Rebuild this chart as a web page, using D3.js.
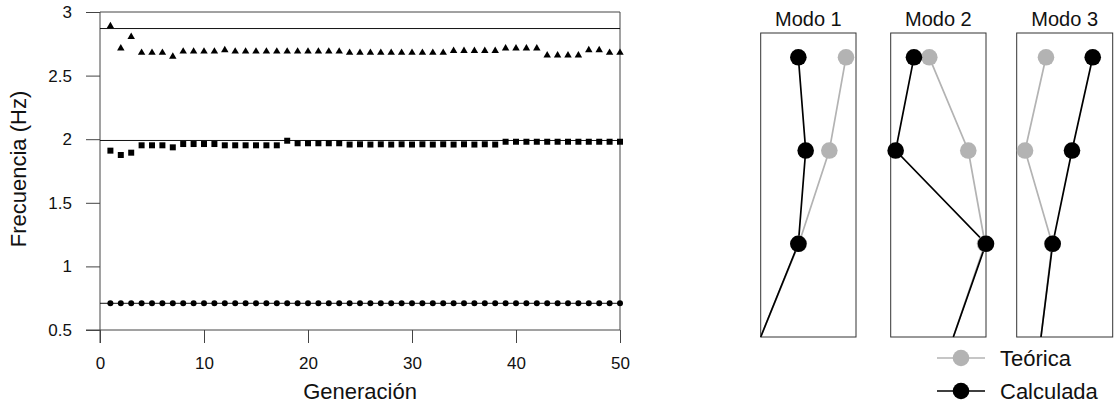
<!DOCTYPE html>
<html><head><meta charset="utf-8">
<script src="https://cdn.jsdelivr.net/npm/d3@7"></script>
<style>body{margin:0;background:#fff}svg{display:block;font-family:"Liberation Sans",Arial,sans-serif}</style>
</head><body><svg id="c" width="1115" height="408"></svg>
<script>
// ---- Left chart data ----
const generations = [1,2,3,4,5,6,7,8,9,10,11,12,13,14,15,16,17,18,19,20,21,22,23,24,25,26,27,28,29,30,31,32,33,34,35,36,37,38,39,40,41,42,43,44,45,46,47,48,49,50];
const freqMode1 = [0.71,0.71,0.71,0.71,0.71,0.71,0.71,0.71,0.71,0.71,0.71,0.71,0.71,0.71,0.71,0.71,0.71,0.71,0.71,0.71,0.71,0.71,0.71,0.71,0.71,0.71,0.71,0.71,0.71,0.71,0.71,0.71,0.71,0.71,0.71,0.71,0.71,0.71,0.71,0.71,0.71,0.71,0.71,0.71,0.71,0.71,0.71,0.71,0.71,0.71];
const freqMode2 = [1.91,1.876,1.894,1.952,1.952,1.952,1.936,1.962,1.962,1.962,1.962,1.952,1.952,1.952,1.952,1.952,1.952,1.988,1.968,1.968,1.968,1.968,1.968,1.958,1.96,1.958,1.96,1.958,1.96,1.958,1.96,1.958,1.96,1.958,1.96,1.958,1.96,1.958,1.98,1.98,1.98,1.98,1.98,1.98,1.98,1.98,1.98,1.98,1.98,1.98];
const freqMode3 = [2.89,2.715,2.805,2.68,2.68,2.68,2.65,2.69,2.69,2.69,2.69,2.70,2.69,2.69,2.69,2.69,2.69,2.69,2.69,2.69,2.69,2.69,2.69,2.68,2.68,2.68,2.68,2.68,2.68,2.68,2.68,2.68,2.68,2.695,2.695,2.695,2.695,2.695,2.715,2.715,2.715,2.715,2.66,2.66,2.66,2.66,2.70,2.70,2.68,2.68];
const theoreticalFreqs = [0.71, 1.99, 2.87];
const xTicks = [0,10,20,30,40,50];
const yTicks = [0.5,1,1.5,2,2.5,3];
const xTitle = "Generación";
const yTitle = "Frecuencia (Hz)";

// ---- Right panels data (mode shapes, fraction of panel width; levels 0..3) ----
const modeTitles = ["Modo 1","Modo 2","Modo 3"];
const levels = [0,1,2,3];
const shapeTeo1 = [0,0.40,0.72,0.895];
const shapeCal1 = [0,0.395,0.472,0.395];
const shapeTeo2 = [0.657,0.99,0.814,0.405];
const shapeCal2 = [0.657,1.0,0.052,0.244];
const shapeTeo3 = [0.253,0.37,0.087,0.305];
const shapeCal3 = [0.253,0.375,0.576,0.792];
const legendLabels = ["Teórica","Calculada"];

const svg = d3.select("#c");
const grey = "#b3b3b3";
const axisCol = "#444";

// ---- Left chart ----
const x = d3.scaleLinear().domain([0,50]).range([100,620]);
const y = d3.scaleLinear().domain([0.5,3]).range([330,12]);
const g = svg.append("g");

g.append("line").attr("x1",x(0)).attr("x2",x(50)).attr("y1",y(3)).attr("y2",y(3)).attr("stroke",axisCol).attr("stroke-width",1);
g.append("line").attr("x1",x(50)).attr("x2",x(50)).attr("y1",y(3)).attr("y2",y(0.5)).attr("stroke",axisCol).attr("stroke-width",1);

const xAxis = d3.axisBottom(x).tickValues(xTicks).tickSize(13).tickPadding(14).tickFormat(d3.format("d"));
const gx = g.append("g").attr("transform",`translate(0,${y(0.5)})`).call(xAxis);
const yAxis = d3.axisLeft(y).tickValues(yTicks).tickSize(14).tickPadding(14).tickFormat(d=>String(d));
const gy = g.append("g").attr("transform",`translate(${x(0)},0)`).call(yAxis);
[gx,gy].forEach(a=>{
  a.select(".domain").remove();
  a.selectAll(".tick line").attr("stroke",axisCol);
  a.selectAll("text").attr("font-size",17).attr("fill","#111").attr("font-family","Liberation Sans, Arial, sans-serif");
});
g.append("line").attr("x1",x(0)-14).attr("x2",x(50)).attr("y1",y(0.5)).attr("y2",y(0.5)).attr("stroke",axisCol);
g.append("line").attr("x1",x(0)).attr("x2",x(0)).attr("y1",y(3)).attr("y2",y(0.5)+13).attr("stroke",axisCol);

g.selectAll("line.ref").data(theoreticalFreqs).join("line").attr("class","ref")
  .attr("x1",x(0)).attr("x2",x(50)).attr("y1",d=>y(d)).attr("y2",d=>y(d))
  .attr("stroke","#111").attr("stroke-width",1);

g.selectAll("circle.m1").data(freqMode1).join("circle").attr("class","m1")
  .attr("cx",(d,i)=>x(generations[i])).attr("cy",d=>y(d)).attr("r",3).attr("fill","#000");
const sq = d3.symbol().type(d3.symbolSquare).size(36);
g.selectAll("path.m2").data(freqMode2).join("path").attr("class","m2")
  .attr("d",sq).attr("transform",(d,i)=>`translate(${x(generations[i])},${y(d)})`).attr("fill","#000");
const tri = d3.symbol().type(d3.symbolTriangle).size(24);
g.selectAll("path.m3").data(freqMode3).join("path").attr("class","m3")
  .attr("d",tri).attr("transform",(d,i)=>`translate(${x(generations[i])},${y(d)})`).attr("fill","#000");

g.append("text").attr("x",x(25)).attr("y",399).attr("text-anchor","middle").attr("font-size",22).attr("fill","#111").text(xTitle);
g.append("text").attr("transform",`translate(26,169) rotate(-90)`).attr("text-anchor","middle").attr("font-size",22).attr("fill","#111").text(yTitle);

// ---- Right panels ----
const panels = [
  {left:760.7,w:95.3,teo:shapeTeo1,cal:shapeCal1},
  {left:890.7,w:95.3,teo:shapeTeo2,cal:shapeCal2},
  {left:1016.7,w:96,teo:shapeTeo3,cal:shapeCal3}
];
const py = d3.scaleLinear().domain([0,3]).range([337,57.3]);
const boxTop = 33;
panels.forEach((p,k)=>{
  const px = d3.scaleLinear().domain([0,1]).range([p.left,p.left+p.w]);
  const pg = svg.append("g");
  pg.append("rect").attr("x",p.left).attr("y",boxTop).attr("width",p.w).attr("height",py(0)-boxTop)
    .attr("fill","none").attr("stroke","#333").attr("stroke-width",1);
  pg.append("text").attr("x",p.left+p.w/2).attr("y",26).attr("text-anchor","middle").attr("font-size",20).attr("fill","#111").text(modeTitles[k]);
  const line = d3.line().x((d,i)=>px(d)).y((d,i)=>py(levels[i]));
  [[p.teo,grey],[p.cal,"#000"]].forEach(([s,col])=>{
    pg.append("path").attr("d",line(s)).attr("fill","none").attr("stroke",col).attr("stroke-width",1.7);
  });
  [[p.teo,grey],[p.cal,"#000"]].forEach(([s,col])=>{
    pg.selectAll(null).data(s.slice(1)).join("circle")
      .attr("cx",d=>px(d)).attr("cy",(d,i)=>py(levels[i+1])).attr("r",8.3).attr("fill",col);
  });
});

const lg = svg.append("g");
[[legendLabels[0],grey,358],[legendLabels[1],"#000",391]].forEach(([t,col,yy])=>{
  lg.append("line").attr("x1",937).attr("x2",985).attr("y1",yy).attr("y2",yy).attr("stroke",col).attr("stroke-width",1.7);
  lg.append("circle").attr("cx",961).attr("cy",yy).attr("r",8.3).attr("fill",col);
  lg.append("text").attr("x",1000).attr("y",yy).attr("dy","0.36em").attr("font-size",22).attr("fill","#111").text(t);
});
</script></body></html>
